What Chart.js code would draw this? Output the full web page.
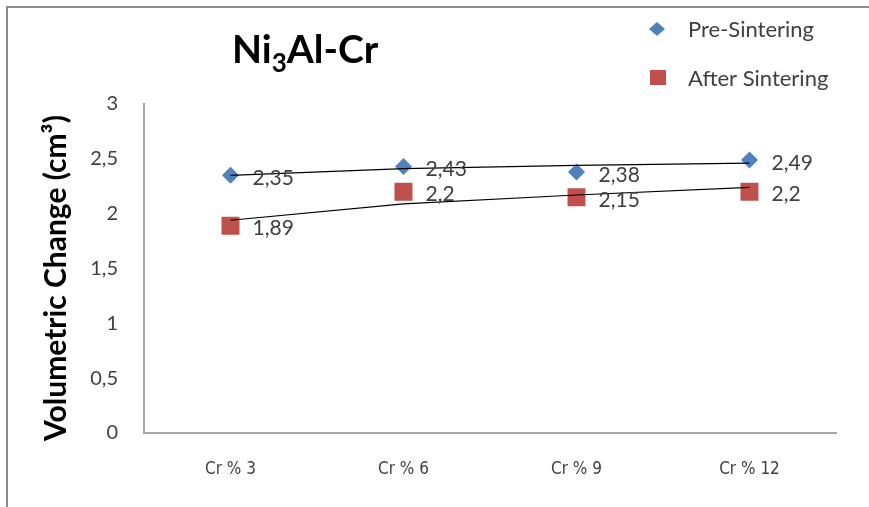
<!DOCTYPE html>
<html>
<head>
<meta charset="utf-8">
<script src="https://cdn.jsdelivr.net/npm/chart.js@4"></script>
<style>
html, body { margin: 0; padding: 0; background: #fff; }
#wrap { width: 869px; height: 507px; }
</style>
</head>
<body>
<div id="wrap"><canvas id="volChart" width="869" height="507"></canvas></div>
<script>
var categories = ['Cr % 3', 'Cr % 6', 'Cr % 9', 'Cr % 12'];
var preSintering = [2.35, 2.43, 2.38, 2.49];
var afterSintering = [1.89, 2.2, 2.15, 2.2];
// trend lines at each category
var preTrend = [2.35, 2.41, 2.44, 2.46];
var afterTrend = [1.94, 2.09, 2.17, 2.24];
var yTicks = [0, 0.5, 1, 1.5, 2, 2.5, 3];

var blue = '#4F81BD';
var red = '#C0504D';
var textGrey = '#404040';

function comma(v) {
    return String(v).replace('.', ',');
}

// frame, data labels, title, legend and y axis title
var decorPlugin = {
    id: 'decor',
    beforeDraw: function (chart) {
        var c = chart.ctx;
        c.save();
        c.fillStyle = '#fff';
        c.fillRect(0, 0, chart.width, chart.height);
        c.strokeStyle = '#8c8c8c';
        c.lineWidth = 2;
        c.strokeRect(7, 7, 950, 600);
        c.restore();
    },
    afterDatasetsDraw: function (chart) {
        var c = chart.ctx;
        c.save();
        c.font = '21px Lato';
        c.fillStyle = textGrey;
        c.textAlign = 'left';
        c.textBaseline = 'middle';
        [2, 3].forEach(function (di) {
            var ds = chart.data.datasets[di];
            chart.getDatasetMeta(di).data.forEach(function (pt, i) {
                c.fillText(comma(ds.data[i]), pt.x + 22, pt.y + 3);
            });
        });
        c.restore();
    },
    afterDraw: function (chart) {
        var c = chart.ctx;
        c.save();
        // title Ni3Al-Cr
        c.fillStyle = '#000';
        c.textBaseline = 'alphabetic';
        c.textAlign = 'left';
        var x = 232;
        c.font = 'bold 39px Lato';
        c.fillText('Ni', x, 63);
        x += c.measureText('Ni').width;
        c.font = 'bold 26px Lato';
        c.fillText('3', x, 72);
        x += c.measureText('3').width;
        c.font = 'bold 39px Lato';
        c.fillText('Al-Cr', x, 63);

        // y axis title
        c.save();
        c.translate(56, 278);
        c.rotate(-Math.PI / 2);
        c.textAlign = 'center';
        c.textBaseline = 'middle';
        c.font = 'bold 30px Lato';
        c.fillText('Volumetric Change (cm³)', 0, 0);
        c.restore();

        // legend
        c.font = '22px Lato';
        c.fillStyle = textGrey;
        c.fillText('Pre-Sintering', 688, 37);
        c.fillText('After Sintering', 688, 86);
        c.fillStyle = blue;
        c.beginPath();
        c.moveTo(657, 22);
        c.lineTo(665, 29);
        c.lineTo(657, 36);
        c.lineTo(649, 29);
        c.closePath();
        c.fill();
        c.fillStyle = red;
        c.fillRect(650, 70, 16, 15);
        c.restore();
    }
};

var ctx = document.getElementById('volChart').getContext('2d');
var volChart = new Chart(ctx, {
    type: 'line',
    data: {
        labels: categories,
        datasets: [{
            label: 'Pre-Sintering trend',
            data: preTrend,
            borderColor: '#000',
            borderWidth: 1.2,
            pointRadius: 0,
            fill: false,
            order: 0
        }, {
            label: 'After Sintering trend',
            data: afterTrend,
            borderColor: '#000',
            borderWidth: 1.2,
            pointRadius: 0,
            fill: false,
            order: 0
        }, {
            label: 'Pre-Sintering',
            data: preSintering,
            showLine: false,
            pointStyle: 'rectRot',
            pointRadius: 8.5,
            pointBackgroundColor: blue,
            pointBorderColor: blue,
            pointBorderWidth: 0,
            order: 1
        }, {
            label: 'After Sintering',
            data: afterSintering,
            showLine: false,
            pointStyle: 'rect',
            pointRadius: 12.7,
            pointBackgroundColor: red,
            pointBorderColor: red,
            pointBorderWidth: 0,
            order: 1
        }]
    },
    options: {
        responsive: false,
        animation: false,
        layout: {
            padding: { top: 104, right: 33, left: 0, bottom: 0 }
        },
        plugins: {
            legend: { display: false },
            title: { display: false },
            tooltip: { enabled: false }
        },
        scales: {
            x: {
                offset: true,
                grid: { display: false, drawTicks: false },
                border: { display: true, color: '#a6a6a6', width: 2 },
                ticks: {
                    color: textGrey,
                    font: { family: '"Liberation Sans Narrow", "DejaVu Sans Condensed", Lato', size: 17 },
                    padding: 26,
                    maxRotation: 0
                },
                afterFit: function (s) { s.height = 74; }
            },
            y: {
                min: 0,
                max: 3,
                grid: { display: false, drawTicks: false },
                border: { display: true, color: '#a6a6a6', width: 2 },
                afterBuildTicks: function (s) {
                    s.ticks = yTicks.map(function (v) { return { value: v }; });
                },
                ticks: {
                    color: textGrey,
                    font: { family: 'Lato', size: 20 },
                    padding: 26,
                    callback: function (v) { return comma(v); }
                },
                afterFit: function (s) { s.width = 144; }
            }
        }
    },
    plugins: [decorPlugin]
});
</script>
</body>
</html>
